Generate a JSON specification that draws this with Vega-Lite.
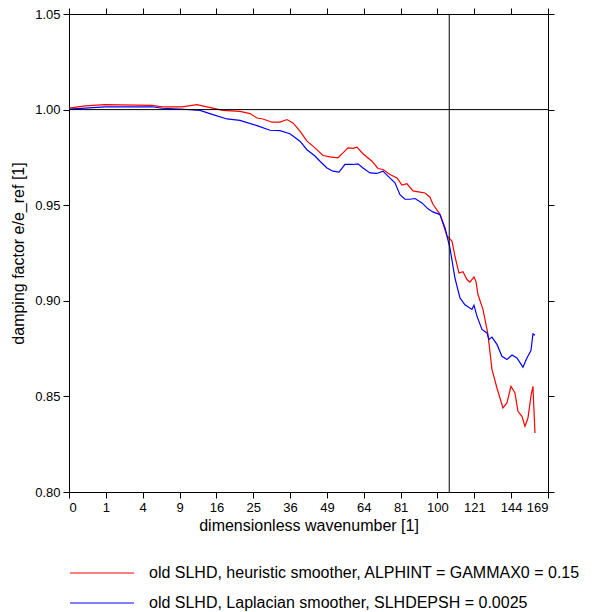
{
  "$schema": "https://vega.github.io/schema/vega-lite/v6.json",
  "width": 479,
  "height": 478,
  "autosize": {"type": "none"},
  "padding": {"left": 69, "top": 14, "right": 56, "bottom": 120},
  "background": "white",
  "config": {
    "view": {"stroke": "black", "strokeWidth": 1},
    "font": "Liberation Sans",
    "axis": {
      "domainColor": "black", "tickColor": "black", "tickSize": 6, "grid": false,
      "labelFont": "Liberation Sans", "labelFontSize": 13, "labelColor": "black",
      "titleFont": "Liberation Sans", "titleFontSize": 16, "titleFontWeight": "normal", "titleColor": "black",
      "labelPadding": 3
    },
    "legend": {
      "orient": "none", "legendX": 24, "legendY": 550, "title": null,
      "symbolType": "M-4,0H4", "symbolSize": 256, "symbolStrokeWidth": 1.2,
      "labelFont": "Liberation Sans", "labelFontSize": 16, "labelColor": "black",
      "labelOffset": 38, "rowPadding": 13, "padding": 0, "offset": 0, "labelLimit": 0
    }
  },
  "datasets": {
    "curves": [
      {"k": 0, "d": 1.0008, "s": "old SLHD, heuristic smoother, ALPHINT = GAMMAX0 = 0.15"},
      {"k": 0.19, "d": 1.0019, "s": "old SLHD, heuristic smoother, ALPHINT = GAMMAX0 = 0.15"},
      {"k": 0.95, "d": 1.0026, "s": "old SLHD, heuristic smoother, ALPHINT = GAMMAX0 = 0.15"},
      {"k": 5.07, "d": 1.0022, "s": "old SLHD, heuristic smoother, ALPHINT = GAMMAX0 = 0.15"},
      {"k": 6.37, "d": 1.0014, "s": "old SLHD, heuristic smoother, ALPHINT = GAMMAX0 = 0.15"},
      {"k": 9.40, "d": 1.0014, "s": "old SLHD, heuristic smoother, ALPHINT = GAMMAX0 = 0.15"},
      {"k": 12.07, "d": 1.0026, "s": "old SLHD, heuristic smoother, ALPHINT = GAMMAX0 = 0.15"},
      {"k": 14.02, "d": 1.0014, "s": "old SLHD, heuristic smoother, ALPHINT = GAMMAX0 = 0.15"},
      {"k": 17.46, "d": 0.9996, "s": "old SLHD, heuristic smoother, ALPHINT = GAMMAX0 = 0.15"},
      {"k": 21.53, "d": 0.9991, "s": "old SLHD, heuristic smoother, ALPHINT = GAMMAX0 = 0.15"},
      {"k": 24.13, "d": 0.9979, "s": "old SLHD, heuristic smoother, ALPHINT = GAMMAX0 = 0.15"},
      {"k": 26.03, "d": 0.9956, "s": "old SLHD, heuristic smoother, ALPHINT = GAMMAX0 = 0.15"},
      {"k": 27.72, "d": 0.9951, "s": "old SLHD, heuristic smoother, ALPHINT = GAMMAX0 = 0.15"},
      {"k": 30.35, "d": 0.9934, "s": "old SLHD, heuristic smoother, ALPHINT = GAMMAX0 = 0.15"},
      {"k": 32.79, "d": 0.9935, "s": "old SLHD, heuristic smoother, ALPHINT = GAMMAX0 = 0.15"},
      {"k": 35.00, "d": 0.9948, "s": "old SLHD, heuristic smoother, ALPHINT = GAMMAX0 = 0.15"},
      {"k": 36.95, "d": 0.9930, "s": "old SLHD, heuristic smoother, ALPHINT = GAMMAX0 = 0.15"},
      {"k": 39.30, "d": 0.9887, "s": "old SLHD, heuristic smoother, ALPHINT = GAMMAX0 = 0.15"},
      {"k": 41.71, "d": 0.9835, "s": "old SLHD, heuristic smoother, ALPHINT = GAMMAX0 = 0.15"},
      {"k": 44.57, "d": 0.9800, "s": "old SLHD, heuristic smoother, ALPHINT = GAMMAX0 = 0.15"},
      {"k": 47.51, "d": 0.9760, "s": "old SLHD, heuristic smoother, ALPHINT = GAMMAX0 = 0.15"},
      {"k": 50.17, "d": 0.9753, "s": "old SLHD, heuristic smoother, ALPHINT = GAMMAX0 = 0.15"},
      {"k": 53.29, "d": 0.9748, "s": "old SLHD, heuristic smoother, ALPHINT = GAMMAX0 = 0.15"},
      {"k": 55.29, "d": 0.9774, "s": "old SLHD, heuristic smoother, ALPHINT = GAMMAX0 = 0.15"},
      {"k": 57.32, "d": 0.9800, "s": "old SLHD, heuristic smoother, ALPHINT = GAMMAX0 = 0.15"},
      {"k": 59.40, "d": 0.9797, "s": "old SLHD, heuristic smoother, ALPHINT = GAMMAX0 = 0.15"},
      {"k": 61.08, "d": 0.9804, "s": "old SLHD, heuristic smoother, ALPHINT = GAMMAX0 = 0.15"},
      {"k": 63.65, "d": 0.9769, "s": "old SLHD, heuristic smoother, ALPHINT = GAMMAX0 = 0.15"},
      {"k": 67.61, "d": 0.9730, "s": "old SLHD, heuristic smoother, ALPHINT = GAMMAX0 = 0.15"},
      {"k": 70.31, "d": 0.9692, "s": "old SLHD, heuristic smoother, ALPHINT = GAMMAX0 = 0.15"},
      {"k": 72.61, "d": 0.9687, "s": "old SLHD, heuristic smoother, ALPHINT = GAMMAX0 = 0.15"},
      {"k": 75.88, "d": 0.9661, "s": "old SLHD, heuristic smoother, ALPHINT = GAMMAX0 = 0.15"},
      {"k": 79.23, "d": 0.9643, "s": "old SLHD, heuristic smoother, ALPHINT = GAMMAX0 = 0.15"},
      {"k": 81.66, "d": 0.9605, "s": "old SLHD, heuristic smoother, ALPHINT = GAMMAX0 = 0.15"},
      {"k": 84.13, "d": 0.9612, "s": "old SLHD, heuristic smoother, ALPHINT = GAMMAX0 = 0.15"},
      {"k": 87.14, "d": 0.9575, "s": "old SLHD, heuristic smoother, ALPHINT = GAMMAX0 = 0.15"},
      {"k": 90.73, "d": 0.9568, "s": "old SLHD, heuristic smoother, ALPHINT = GAMMAX0 = 0.15"},
      {"k": 93.33, "d": 0.9564, "s": "old SLHD, heuristic smoother, ALPHINT = GAMMAX0 = 0.15"},
      {"k": 95.97, "d": 0.9542, "s": "old SLHD, heuristic smoother, ALPHINT = GAMMAX0 = 0.15"},
      {"k": 97.57, "d": 0.9505, "s": "old SLHD, heuristic smoother, ALPHINT = GAMMAX0 = 0.15"},
      {"k": 101.36, "d": 0.9452, "s": "old SLHD, heuristic smoother, ALPHINT = GAMMAX0 = 0.15"},
      {"k": 105.22, "d": 0.9339, "s": "old SLHD, heuristic smoother, ALPHINT = GAMMAX0 = 0.15"},
      {"k": 108.02, "d": 0.9312, "s": "old SLHD, heuristic smoother, ALPHINT = GAMMAX0 = 0.15"},
      {"k": 109.72, "d": 0.9233, "s": "old SLHD, heuristic smoother, ALPHINT = GAMMAX0 = 0.15"},
      {"k": 112.00, "d": 0.9145, "s": "old SLHD, heuristic smoother, ALPHINT = GAMMAX0 = 0.15"},
      {"k": 114.32, "d": 0.9152, "s": "old SLHD, heuristic smoother, ALPHINT = GAMMAX0 = 0.15"},
      {"k": 116.66, "d": 0.9111, "s": "old SLHD, heuristic smoother, ALPHINT = GAMMAX0 = 0.15"},
      {"k": 118.42, "d": 0.9098, "s": "old SLHD, heuristic smoother, ALPHINT = GAMMAX0 = 0.15"},
      {"k": 120.79, "d": 0.9125, "s": "old SLHD, heuristic smoother, ALPHINT = GAMMAX0 = 0.15"},
      {"k": 121.99, "d": 0.9102, "s": "old SLHD, heuristic smoother, ALPHINT = GAMMAX0 = 0.15"},
      {"k": 123.19, "d": 0.9033, "s": "old SLHD, heuristic smoother, ALPHINT = GAMMAX0 = 0.15"},
      {"k": 126.22, "d": 0.8955, "s": "old SLHD, heuristic smoother, ALPHINT = GAMMAX0 = 0.15"},
      {"k": 129.28, "d": 0.8824, "s": "old SLHD, heuristic smoother, ALPHINT = GAMMAX0 = 0.15"},
      {"k": 131.77, "d": 0.8641, "s": "old SLHD, heuristic smoother, ALPHINT = GAMMAX0 = 0.15"},
      {"k": 134.90, "d": 0.8544, "s": "old SLHD, heuristic smoother, ALPHINT = GAMMAX0 = 0.15"},
      {"k": 138.70, "d": 0.8440, "s": "old SLHD, heuristic smoother, ALPHINT = GAMMAX0 = 0.15"},
      {"k": 141.28, "d": 0.8466, "s": "old SLHD, heuristic smoother, ALPHINT = GAMMAX0 = 0.15"},
      {"k": 143.87, "d": 0.8553, "s": "old SLHD, heuristic smoother, ALPHINT = GAMMAX0 = 0.15"},
      {"k": 146.49, "d": 0.8518, "s": "old SLHD, heuristic smoother, ALPHINT = GAMMAX0 = 0.15"},
      {"k": 148.46, "d": 0.8422, "s": "old SLHD, heuristic smoother, ALPHINT = GAMMAX0 = 0.15"},
      {"k": 151.13, "d": 0.8396, "s": "old SLHD, heuristic smoother, ALPHINT = GAMMAX0 = 0.15"},
      {"k": 153.12, "d": 0.8344, "s": "old SLHD, heuristic smoother, ALPHINT = GAMMAX0 = 0.15"},
      {"k": 155.14, "d": 0.8387, "s": "old SLHD, heuristic smoother, ALPHINT = GAMMAX0 = 0.15"},
      {"k": 157.18, "d": 0.8501, "s": "old SLHD, heuristic smoother, ALPHINT = GAMMAX0 = 0.15"},
      {"k": 158.55, "d": 0.8553, "s": "old SLHD, heuristic smoother, ALPHINT = GAMMAX0 = 0.15"},
      {"k": 159.92, "d": 0.8309, "s": "old SLHD, heuristic smoother, ALPHINT = GAMMAX0 = 0.15"},
      {"k": 0, "d": 1.0002, "s": "old SLHD, Laplacian smoother, SLHDEPSH = 0.0025"},
      {"k": 0.95, "d": 1.0014, "s": "old SLHD, Laplacian smoother, SLHDEPSH = 0.0025"},
      {"k": 5.07, "d": 1.0015, "s": "old SLHD, Laplacian smoother, SLHDEPSH = 0.0025"},
      {"k": 6.37, "d": 1.0007, "s": "old SLHD, Laplacian smoother, SLHDEPSH = 0.0025"},
      {"k": 9.07, "d": 1.0003, "s": "old SLHD, Laplacian smoother, SLHDEPSH = 0.0025"},
      {"k": 12.64, "d": 0.9996, "s": "old SLHD, Laplacian smoother, SLHDEPSH = 0.0025"},
      {"k": 15.27, "d": 0.9974, "s": "old SLHD, Laplacian smoother, SLHDEPSH = 0.0025"},
      {"k": 18.38, "d": 0.9951, "s": "old SLHD, Laplacian smoother, SLHDEPSH = 0.0025"},
      {"k": 21.53, "d": 0.9944, "s": "old SLHD, Laplacian smoother, SLHDEPSH = 0.0025"},
      {"k": 26.03, "d": 0.9916, "s": "old SLHD, Laplacian smoother, SLHDEPSH = 0.0025"},
      {"k": 29.75, "d": 0.9892, "s": "old SLHD, Laplacian smoother, SLHDEPSH = 0.0025"},
      {"k": 32.79, "d": 0.9890, "s": "old SLHD, Laplacian smoother, SLHDEPSH = 0.0025"},
      {"k": 35.97, "d": 0.9874, "s": "old SLHD, Laplacian smoother, SLHDEPSH = 0.0025"},
      {"k": 39.30, "d": 0.9835, "s": "old SLHD, Laplacian smoother, SLHDEPSH = 0.0025"},
      {"k": 41.71, "d": 0.9790, "s": "old SLHD, Laplacian smoother, SLHDEPSH = 0.0025"},
      {"k": 44.57, "d": 0.9757, "s": "old SLHD, Laplacian smoother, SLHDEPSH = 0.0025"},
      {"k": 46.39, "d": 0.9730, "s": "old SLHD, Laplacian smoother, SLHDEPSH = 0.0025"},
      {"k": 49.02, "d": 0.9695, "s": "old SLHD, Laplacian smoother, SLHDEPSH = 0.0025"},
      {"k": 51.32, "d": 0.9678, "s": "old SLHD, Laplacian smoother, SLHDEPSH = 0.0025"},
      {"k": 53.68, "d": 0.9673, "s": "old SLHD, Laplacian smoother, SLHDEPSH = 0.0025"},
      {"k": 56.10, "d": 0.9713, "s": "old SLHD, Laplacian smoother, SLHDEPSH = 0.0025"},
      {"k": 59.40, "d": 0.9713, "s": "old SLHD, Laplacian smoother, SLHDEPSH = 0.0025"},
      {"k": 61.51, "d": 0.9716, "s": "old SLHD, Laplacian smoother, SLHDEPSH = 0.0025"},
      {"k": 63.65, "d": 0.9695, "s": "old SLHD, Laplacian smoother, SLHDEPSH = 0.0025"},
      {"k": 66.72, "d": 0.9669, "s": "old SLHD, Laplacian smoother, SLHDEPSH = 0.0025"},
      {"k": 69.86, "d": 0.9666, "s": "old SLHD, Laplacian smoother, SLHDEPSH = 0.0025"},
      {"k": 72.61, "d": 0.9678, "s": "old SLHD, Laplacian smoother, SLHDEPSH = 0.0025"},
      {"k": 74.94, "d": 0.9652, "s": "old SLHD, Laplacian smoother, SLHDEPSH = 0.0025"},
      {"k": 78.27, "d": 0.9617, "s": "old SLHD, Laplacian smoother, SLHDEPSH = 0.0025"},
      {"k": 80.68, "d": 0.9555, "s": "old SLHD, Laplacian smoother, SLHDEPSH = 0.0025"},
      {"k": 83.14, "d": 0.9532, "s": "old SLHD, Laplacian smoother, SLHDEPSH = 0.0025"},
      {"k": 85.63, "d": 0.9531, "s": "old SLHD, Laplacian smoother, SLHDEPSH = 0.0025"},
      {"k": 88.16, "d": 0.9535, "s": "old SLHD, Laplacian smoother, SLHDEPSH = 0.0025"},
      {"k": 91.76, "d": 0.9512, "s": "old SLHD, Laplacian smoother, SLHDEPSH = 0.0025"},
      {"k": 94.91, "d": 0.9481, "s": "old SLHD, Laplacian smoother, SLHDEPSH = 0.0025"},
      {"k": 97.57, "d": 0.9465, "s": "old SLHD, Laplacian smoother, SLHDEPSH = 0.0025"},
      {"k": 101.36, "d": 0.9451, "s": "old SLHD, Laplacian smoother, SLHDEPSH = 0.0025"},
      {"k": 104.11, "d": 0.9382, "s": "old SLHD, Laplacian smoother, SLHDEPSH = 0.0025"},
      {"k": 106.90, "d": 0.9276, "s": "old SLHD, Laplacian smoother, SLHDEPSH = 0.0025"},
      {"k": 109.72, "d": 0.9119, "s": "old SLHD, Laplacian smoother, SLHDEPSH = 0.0025"},
      {"k": 112.59, "d": 0.9015, "s": "old SLHD, Laplacian smoother, SLHDEPSH = 0.0025"},
      {"k": 115.48, "d": 0.8979, "s": "old SLHD, Laplacian smoother, SLHDEPSH = 0.0025"},
      {"k": 119.60, "d": 0.8955, "s": "old SLHD, Laplacian smoother, SLHDEPSH = 0.0025"},
      {"k": 120.79, "d": 0.8977, "s": "old SLHD, Laplacian smoother, SLHDEPSH = 0.0025"},
      {"k": 122.59, "d": 0.8920, "s": "old SLHD, Laplacian smoother, SLHDEPSH = 0.0025"},
      {"k": 125.61, "d": 0.8850, "s": "old SLHD, Laplacian smoother, SLHDEPSH = 0.0025"},
      {"k": 128.67, "d": 0.8832, "s": "old SLHD, Laplacian smoother, SLHDEPSH = 0.0025"},
      {"k": 129.89, "d": 0.8798, "s": "old SLHD, Laplacian smoother, SLHDEPSH = 0.0025"},
      {"k": 131.77, "d": 0.8810, "s": "old SLHD, Laplacian smoother, SLHDEPSH = 0.0025"},
      {"k": 134.90, "d": 0.8772, "s": "old SLHD, Laplacian smoother, SLHDEPSH = 0.0025"},
      {"k": 138.06, "d": 0.8710, "s": "old SLHD, Laplacian smoother, SLHDEPSH = 0.0025"},
      {"k": 141.28, "d": 0.8693, "s": "old SLHD, Laplacian smoother, SLHDEPSH = 0.0025"},
      {"k": 144.52, "d": 0.8716, "s": "old SLHD, Laplacian smoother, SLHDEPSH = 0.0025"},
      {"k": 147.80, "d": 0.8701, "s": "old SLHD, Laplacian smoother, SLHDEPSH = 0.0025"},
      {"k": 151.79, "d": 0.8653, "s": "old SLHD, Laplacian smoother, SLHDEPSH = 0.0025"},
      {"k": 154.47, "d": 0.8701, "s": "old SLHD, Laplacian smoother, SLHDEPSH = 0.0025"},
      {"k": 157.18, "d": 0.8740, "s": "old SLHD, Laplacian smoother, SLHDEPSH = 0.0025"},
      {"k": 158.55, "d": 0.8827, "s": "old SLHD, Laplacian smoother, SLHDEPSH = 0.0025"},
      {"k": 159.92, "d": 0.8820, "s": "old SLHD, Laplacian smoother, SLHDEPSH = 0.0025"}
    ],
    "hline": [{"d": 1.0}],
    "vline": [{"k": 106.5}]
  },
  "layer": [
    {
      "data": {"name": "curves"},
      "mark": {"type": "line", "strokeWidth": 1.2, "clip": true},
      "encoding": {
        "x": {"field": "k", "type": "quantitative",
          "scale": {"type": "sqrt", "domain": [0, 169], "nice": false, "zero": false},
          "axis": {"orient": "bottom", "values": [0, 1, 4, 9, 16, 25, 36, 49, 64, 81, 100, 121, 144, 169],
            "title": "dimensionless wavenumber [1]", "titlePadding": 3}},
        "y": {"field": "d", "type": "quantitative",
          "scale": {"domain": [0.8, 1.05], "nice": false, "zero": false},
          "axis": {"orient": "left", "values": [0.8, 0.85, 0.9, 0.95, 1.0, 1.05], "format": ".2f",
            "title": "damping factor e/e_ref [1]", "titlePadding": 8}},
        "color": {"field": "s", "type": "nominal",
          "scale": {"domain": ["old SLHD, heuristic smoother, ALPHINT = GAMMAX0 = 0.15", "old SLHD, Laplacian smoother, SLHDEPSH = 0.0025"],
            "range": ["#ff0000", "#0000ff"]},
          "legend": {"title": null}}
      }
    },
    {
      "data": {"name": "hline"},
      "mark": {"type": "rule", "color": "black", "strokeWidth": 1},
      "encoding": {
        "y": {"field": "d", "type": "quantitative",
          "scale": {"domain": [0.8, 1.05], "nice": false, "zero": false},
          "axis": {"orient": "right", "values": [0.8, 0.85, 0.9, 0.95, 1.0, 1.05], "labels": false, "title": null}}
      }
    },
    {
      "data": {"name": "vline"},
      "mark": {"type": "rule", "color": "black", "strokeWidth": 1},
      "encoding": {
        "x": {"field": "k", "type": "quantitative",
          "scale": {"type": "sqrt", "domain": [0, 169], "nice": false, "zero": false},
          "axis": {"orient": "top", "values": [0, 1, 4, 9, 16, 25, 36, 49, 64, 81, 100, 121, 144, 169], "labels": false, "title": null}}
      }
    }
  ],
  "resolve": {"axis": {"x": "independent", "y": "independent"}}
}
